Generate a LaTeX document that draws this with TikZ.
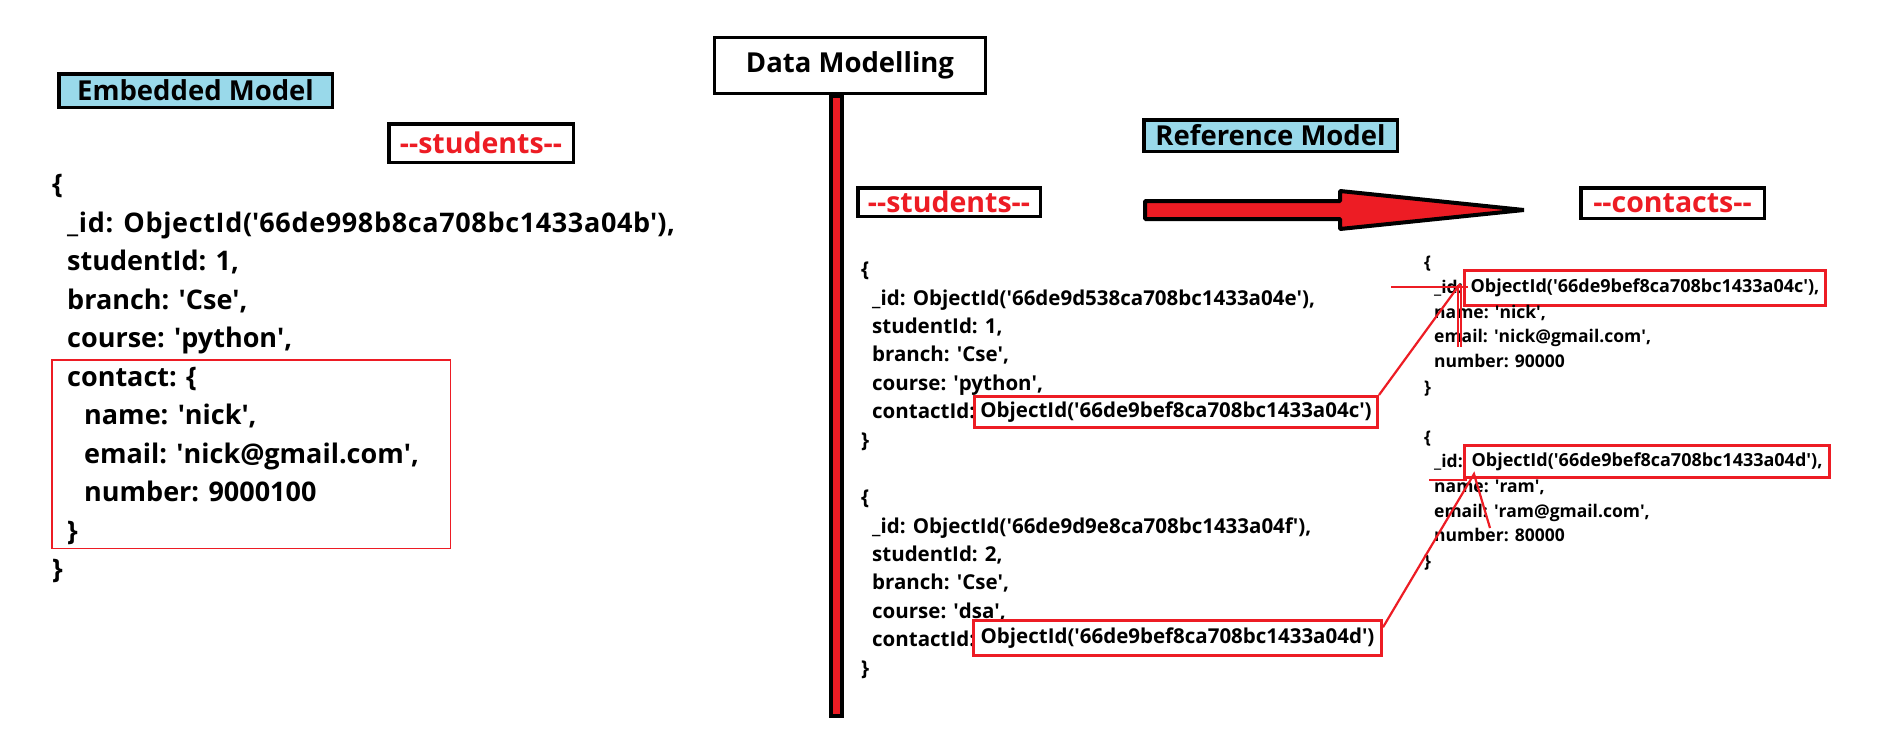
\documentclass[tikz,border=0pt]{standalone}
\usepackage{fontspec}
\setmainfont{Open Sans}
\newcommand\sq{\textquotesingle}
\definecolor{pred}{HTML}{ED1C24}
\definecolor{skyb}{HTML}{99D9EA}
\begin{document}
\begin{tikzpicture}[x=1pt,y=-1pt,
 every node/.style={inner sep=0pt},
 lc/.style={anchor=west,font=\bfseries\fontsize{27}{32}\selectfont,text height=18pt,text depth=0pt},
 rc/.style={anchor=west,font=\bfseries\fontsize{20.5}{24}\selectfont,text height=13.5pt,text depth=0pt},
 cc/.style={anchor=west,font=\bfseries\fontsize{17.5}{21}\selectfont,text height=11.5pt,text depth=0pt},
 title/.style={draw=black,line width=3.5pt,fill=skyb,font=\bfseries\fontsize{27.5}{30}\selectfont},
 coll/.style={draw=black,line width=3.5pt,fill=white,text=pred,font=\bfseries\fontsize{28.5}{30}\selectfont},
 ridbox/.style={draw=pred,line width=3pt,font=\bfseries\fontsize{20.5}{24}\selectfont},
 cidbox/.style={draw=pred,line width=3pt,font=\bfseries\fontsize{18}{22}\selectfont},
 redline/.style={draw=pred,line width=2.2pt},
]
\fill[white] (0,0) rectangle (1903,755);
\useasboundingbox (0,0) rectangle (1903,755);

% titles
\node[title,minimum width=273.5pt,minimum height=33.5pt] (emb) at (195.5,90.5) {Embedded Model};
\node[title,minimum width=253.5pt,minimum height=31.5pt] (refm) at (1270.5,135.5) {Reference Model};
\node[draw=black,line width=3pt,fill=white,font=\bfseries\fontsize{27.5}{30}\selectfont,minimum width=271pt,minimum height=56pt] (dm) at (850,65.5) {Data Modelling};
\node[coll,minimum width=184.5pt,minimum height=38.5pt] (stl) at (481,143) {-{}-students-{}-};
\node[coll,minimum width=182.5pt,minimum height=28.5pt] (str) at (949,202) {-{}-students-{}-};
\node[coll,minimum width=183.5pt,minimum height=30.5pt] (con) at (1672.5,203) {-{}-contacts-{}-};

% divider bar
\fill[black] (829,93) rectangle (844,718);
\fill[pred] (833,98) rectangle (840,714);

% big arrow
\draw[line width=4pt,fill=pred,line join=bevel] (1145,201) -- (1340,201) -- (1340,191) -- (1524,210) -- (1340,229) -- (1340,219) -- (1145,219) -- cycle;

% left embedded document
\node[lc] (l0) at (52,184.5) {\{};
\node[lc] (l1) at (67,223) {\addfontfeature{LetterSpace=2.4}\_id: ObjectId(\sq66de998b8ca708bc1433a04b\sq),};
\node[lc] (l2) at (67,261.5) {studentId: 1,};
\node[lc] (l3) at (67,300) {branch: \sq Cse\sq,};
\node[lc] (l4) at (67,338.5) {course: \sq python\sq,};
\node[lc] (l5) at (67,377) {contact: \{};
\node[lc] (l6) at (84,415.5) {name: \sq nick\sq,};
\node[lc] (l7) at (84,454) {email: \sq nick@gmail.com\sq,};
\node[lc] (l8) at (84,492.5) {number: 9000100};
\node[lc] (l9) at (67,531) {\}};
\node[lc] (l10) at (52,569.5) {\}};
\node[draw=pred,line width=1.5pt,minimum width=398.5pt,minimum height=188.5pt] (cbox) at (251,454) {};

% right students documents
\node[rc] (a0) at (861,270) {\{};
\node[rc] (a1) at (872,298.4) {\_id: ObjectId(\sq66de9d538ca708bc1433a04e\sq),};
\node[rc] (a2) at (872,326.8) {studentId: 1,};
\node[rc] (a3) at (872,355.2) {branch: \sq Cse\sq,};
\node[rc] (a4) at (872,383.6) {course: \sq python\sq,};
\node[rc] (a5) at (872,412) {contactId:};
\node[ridbox,minimum width=403pt,minimum height=31pt] (sb1) at (1176,412) {ObjectId(\sq66de9bef8ca708bc1433a04c\sq)};
\node[rc] (a6) at (861,440.4) {\}};

\node[rc] (b0) at (861,498) {\{};
\node[rc] (b1) at (872,526.4) {\_id: ObjectId(\sq66de9d9e8ca708bc1433a04f\sq),};
\node[rc] (b2) at (872,554.8) {studentId: 2,};
\node[rc] (b3) at (872,583.2) {branch: \sq Cse\sq,};
\node[rc] (b4) at (872,611.6) {course: \sq dsa\sq,};
\node[rc] (b5) at (872,640) {contactId:};
\node[ridbox,minimum width=408pt,minimum height=35pt] (sb2) at (1177.5,638) {ObjectId(\sq66de9bef8ca708bc1433a04d\sq)};
\node[rc] (b6) at (861,668.4) {\}};

% contacts documents
\node[cc] (c0) at (1424,263) {\{};
\node[cc] (c1) at (1434,288) {\_id:};
\node[cidbox,minimum width=361pt,minimum height=35pt] (cb1) at (1645,288) {ObjectId(\sq66de9bef8ca708bc1433a04c\sq),};
\node[cc] (c2) at (1434,312.5) {name: \sq nick\sq,};
\node[cc] (c3) at (1434,337) {email: \sq nick@gmail.com\sq,};
\node[cc] (c4) at (1434,362) {number: 90000};
\node[cc] (c5) at (1424,388) {\}};

\node[cc] (d0) at (1424,438) {\{};
\node[cc] (d1) at (1434,462) {\_id:};
\node[cidbox,minimum width=365pt,minimum height=32pt] (cb2) at (1647,461.5) {ObjectId(\sq66de9bef8ca708bc1433a04d\sq),};
\node[cc] (d2) at (1434,487) {name: \sq ram\sq,};
\node[cc] (d3) at (1434,512) {email: \sq ram@gmail.com\sq,};
\node[cc] (d4) at (1434,535.5) {number: 80000};
\node[cc] (d5) at (1424,562) {\}};

% hand-drawn red links
\coordinate (t1) at (1460,284);
\coordinate (h1a) at (1391,287);
\coordinate (h1b) at (1468,287);
\coordinate (v1a) at (1458,285);
\coordinate (v1b) at (1458,347);
\coordinate (v1c) at (1461,285);
\coordinate (v1d) at (1461,347);
\draw[redline] (sb1.north east) -- (t1);
\draw[redline] (h1a) -- (h1b);
\draw[redline,line width=1.6pt] (v1a) -- (v1b);
\draw[redline,line width=1.6pt] (v1c) -- (v1d);

\coordinate (t2) at (1474,474);
\coordinate (k2) at (1490,528);
\coordinate (h2a) at (1429,480);
\coordinate (h2b) at (1467,480);
\draw[redline] (sb2.3) -- (t2) -- (k2);
\draw[redline] (h2a) -- (h2b);
\end{tikzpicture}
\end{document}
